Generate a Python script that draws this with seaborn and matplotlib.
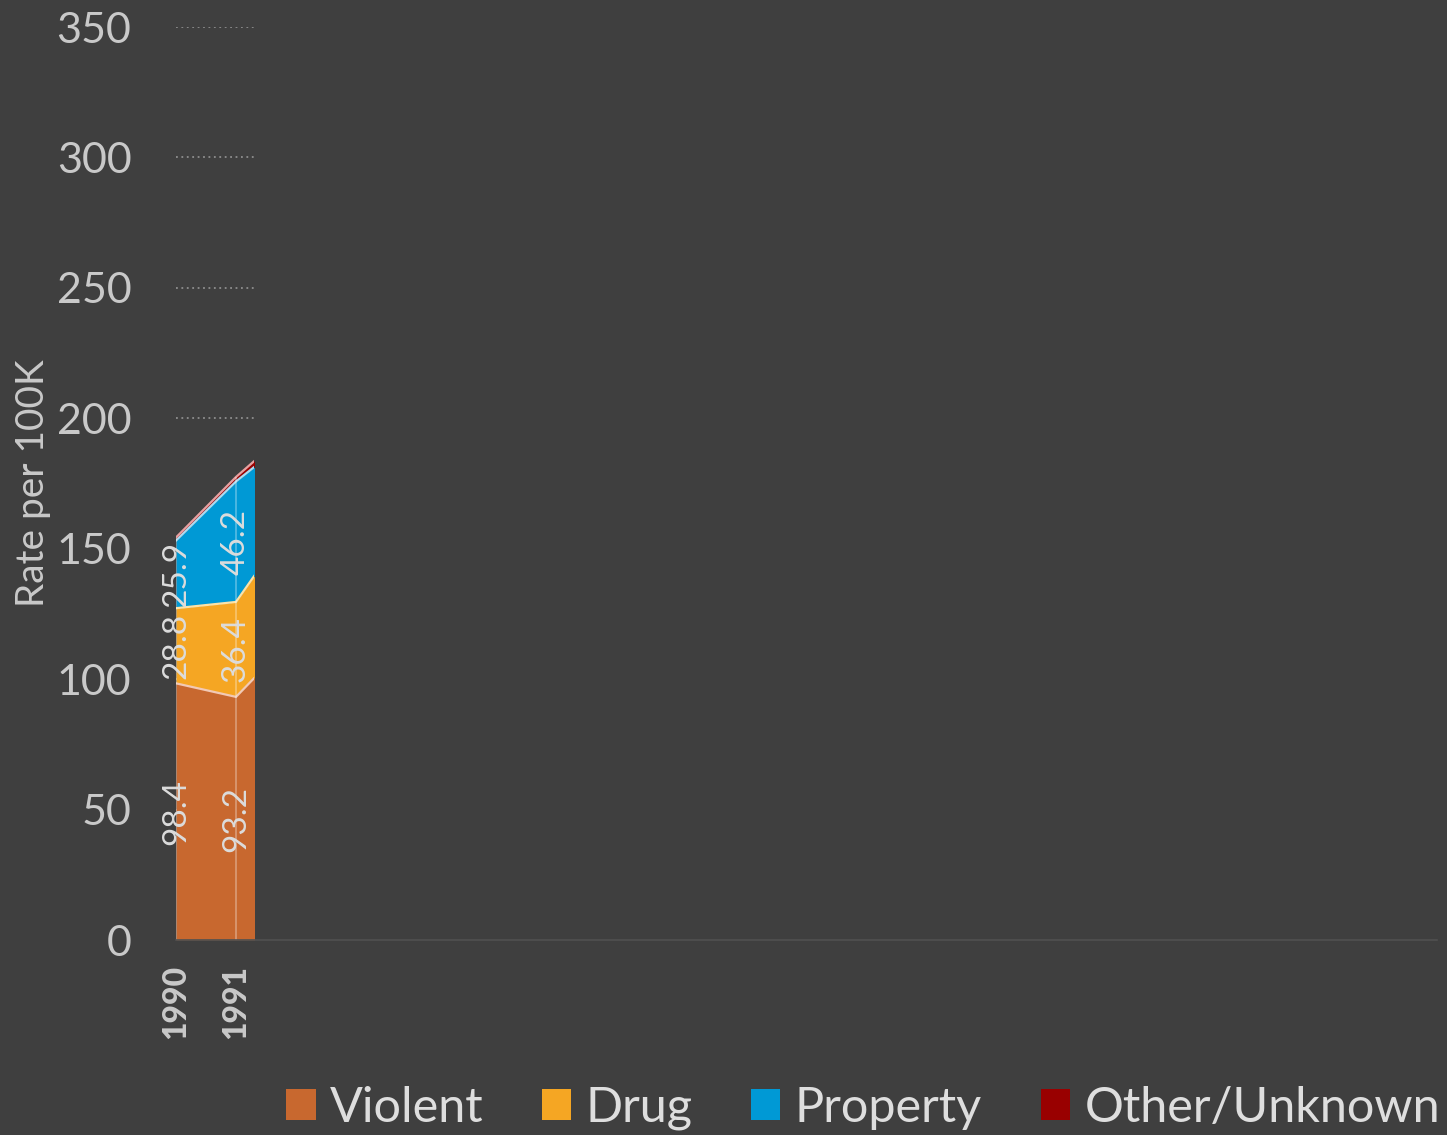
import numpy as np
import pandas as pd
import seaborn as sns
import matplotlib.pyplot as plt
from matplotlib.patches import Rectangle, Patch

#----------------------
# Data (rate per 100K)
#----------------------

years = [1990, 1991, 1992]
violent = [98.4, 93.2, 117.0]
drug = [28.8, 36.4, 45.5]
property_ = [25.9, 46.2, 31.5]
other = [1.2, 1.7, 3.6]

categories = ['Violent', 'Drug', 'Property', 'Other/Unknown']
labelled = ['Violent', 'Drug', 'Property']
x_end = 2011          # full axis extent
reveal_to = 1991.3    # how far the stacked area has been drawn

colors = ['#c8682f', '#f5a623', '#0099d5', '#990000']
edge_colors = ['#f2c9b5', '#fde2a6', '#a8dcf2', '#e8a0a0']

#----------------------
# Theme
#----------------------

bg = '#3f3f3f'
text_col = '#c9c9c9'
sns.set_theme(style='dark', rc={'figure.facecolor': bg, 'axes.facecolor': bg,
                                'savefig.facecolor': bg})
plt.rcParams['font.family'] = ['Lato', 'DejaVu Sans']

#----------------------
# Build stacked frame
#----------------------

df = pd.DataFrame({'year': years, 'Violent': violent, 'Drug': drug,
                   'Property': property_, 'Other/Unknown': other})
tops = df[categories].cumsum(axis=1)
bottoms = tops - df[categories]

fig = plt.figure(figsize=(14.47, 11.35), dpi=100)
ax = fig.add_axes([0.1216, 0.1718, 0.993 - 0.1216, 0.9762 - 0.1718])

clip = Rectangle((years[0], 0), reveal_to - years[0], 350, transform=ax.transData)

#-----------
# Areas
#-----------

for cat, c in zip(categories, colors):
    poly = ax.fill_between(df['year'], bottoms[cat], tops[cat], color=c, lw=0)
    poly.set_clip_path(clip)

long = tops.assign(year=df['year']).melt(id_vars='year', var_name='cat', value_name='top')
sns.lineplot(data=long, x='year', y='top', hue='cat', palette=edge_colors,
             hue_order=categories, lw=1.6, legend=False, ax=ax, sort=True)
for ln in ax.lines:
    ln.set_clip_path(clip)

# vertical guide at each drawn point
shown = [y for y in years if y <= reveal_to]
vl = ax.vlines(shown, 0, tops['Other/Unknown'][:len(shown)], color='white',
               alpha=0.35, lw=1.2)

# dotted grid, revealed with the area
yticks = np.arange(0, 351, 50)
gl = ax.hlines(yticks[1:], years[0], years[-1], colors='#8e8e8e',
               linestyles=(0, (1, 2)), lw=1.3, zorder=0)
gl.set_clip_path(clip)

#-----------
# Value labels
#-----------

for i, yr in enumerate(years):
    if yr > reveal_to:
        continue
    for cat in labelled:
        mid = bottoms.loc[i, cat] + df.loc[i, cat] / 2
        ax.text(yr, mid, f'{df.loc[i, cat]:.1f}', rotation=90, ha='center',
                va='center', fontsize=24, color='#dcdcdc')

#-----------
# Axes
#-----------

ax.set_xlim(years[0], x_end)
ax.set_ylim(0, 350)
ax.set_yticks(yticks)
ax.set_xticks(shown)
ax.set_xticklabels([str(y) for y in shown], rotation=90)
for lbl in ax.get_xticklabels():
    lbl.set_fontsize(23)
    lbl.set_fontweight(900)
    lbl.set_color(text_col)
ax.tick_params(axis='y', labelsize=31, labelcolor=text_col, pad=32, length=0)
ax.tick_params(axis='x', pad=18, length=0)
ax.set_xlabel('')
ax.set_ylabel('Rate per 100K', fontsize=28, color=text_col, labelpad=4)
ax.grid(False)
for s in ['top', 'right', 'left']:
    ax.spines[s].set_visible(False)
ax.spines['bottom'].set_color('#505050')
ax.spines['bottom'].set_linewidth(1.2)

#-----------
# Legend
#-----------

handles = [Patch(facecolor=c, edgecolor='none') for c in colors]
leg = fig.legend(handles, categories, loc='center', bbox_to_anchor=(0.5965, 0.024),
                 ncol=4, frameon=False, fontsize=35, handlelength=0.6,
                 handleheight=0.6, handletextpad=0.3, columnspacing=1.2,
                 labelcolor='#dedede')

plt.savefig('out.png', dpi=100)
